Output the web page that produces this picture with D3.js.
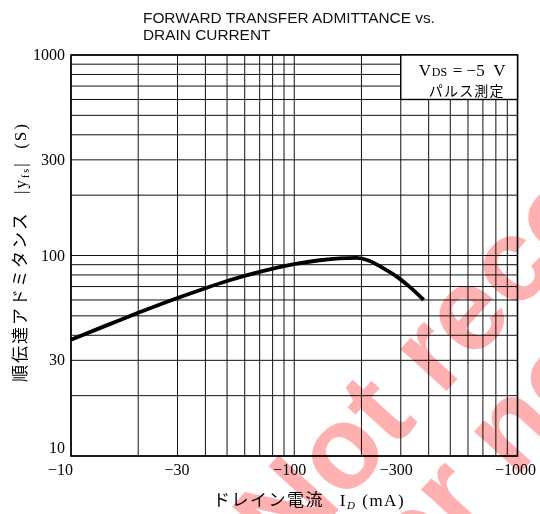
<!DOCTYPE html>
<html>
<head>
<meta charset="utf-8">
<script src="https://cdn.jsdelivr.net/npm/d3@7"></script>
<style>
  body { margin: 0; background: #fff; }
  svg { display: block; }
</style>
</head>
<body>
<div id="chart"></div>
<script>
// drain current |I_D| (mA) and forward transfer admittance |Yfs| (S)
const currentMA = [10, 15, 20, 30, 40, 50, 70, 100, 130, 160, 190, 215, 250, 290, 330, 380];
const admittance = [38, 45.6, 51.8, 61.4, 68.7, 74.6, 82.9, 90.6, 94.7, 96.7, 97.2, 94.5, 86.5, 78, 69.5, 60];

const gridValues = [10, 20, 30, 40, 50, 60, 70, 80, 90, 100, 200, 300, 400, 500, 600, 700, 800, 900, 1000];
const xTickValues = [10, 30, 100, 300, 1000];
const yTickValues = [10, 30, 100, 300, 1000];
const legendRange = {x: [300, 1000], y: [600, 1000]};

const width = 540, height = 514;
const plot = {left: 71, right: 517.5, top: 55, bottom: 456};

const svg = d3.select("#chart").append("svg")
    .attr("width", width)
    .attr("height", height);

const x = d3.scaleLog().domain([10, 1000]).range([plot.left, plot.right]);
const y = d3.scaleLog().domain([10, 1000]).range([plot.bottom, plot.top]);

const serif = "Liberation Serif, Times New Roman, serif";
const jp = "Noto Sans CJK JP, sans-serif";

// title
const title = svg.append("text")
    .attr("font-family", "Liberation Sans, Arial, sans-serif")
    .attr("font-size", 15.4)
    .attr("fill", "#111");
title.append("tspan").attr("x", 143).attr("y", 22.5).text("FORWARD TRANSFER ADMITTANCE vs.");
title.append("tspan").attr("x", 143).attr("y", 39.5).text("DRAIN CURRENT");

// grid
const grid = svg.append("g").attr("stroke", "#111").attr("stroke-width", 1);
grid.selectAll(".vline")
    .data(gridValues)
    .enter().append("line")
    .attr("class", "vline")
    .attr("x1", d => x(d)).attr("x2", d => x(d))
    .attr("y1", plot.top).attr("y2", plot.bottom);
grid.selectAll(".hline")
    .data(gridValues)
    .enter().append("line")
    .attr("class", "hline")
    .attr("y1", d => y(d)).attr("y2", d => y(d))
    .attr("x1", plot.left).attr("x2", plot.right);

// frame
svg.append("rect")
    .attr("x", plot.left).attr("y", plot.top)
    .attr("width", plot.right - plot.left)
    .attr("height", plot.bottom - plot.top)
    .attr("fill", "none")
    .attr("stroke", "#000")
    .attr("stroke-width", 1.6);

// legend box
svg.append("rect")
    .attr("x", x(legendRange.x[0]))
    .attr("y", y(legendRange.y[1]))
    .attr("width", x(legendRange.x[1]) - x(legendRange.x[0]))
    .attr("height", y(legendRange.y[0]) - y(legendRange.y[1]))
    .attr("fill", "#fff")
    .attr("stroke", "#000")
    .attr("stroke-width", 1.4);

const legX = x(legendRange.x[0]) + 18;
svg.append("text")
    .attr("x", legX).attr("y", 76)
    .attr("font-family", serif).attr("font-size", 17)
    .text("V");
svg.append("text")
    .attr("x", legX + 13).attr("y", 76)
    .attr("font-family", serif).attr("font-size", 12)
    .text("DS");
svg.append("text")
    .attr("x", legX + 34).attr("y", 76)
    .attr("font-family", serif).attr("font-size", 17)
    .text("=\u00a0−5\u00a0\u00a0V");

svg.append("text")
    .attr("x", legX + 10).attr("y", 95.5)
    .attr("font-family", jp)
    .attr("font-size", 14)
    .attr("letter-spacing", 1.2)
    .text("パルス測定");

// curve
const line = d3.line()
    .x(d => x(d[0]))
    .y(d => y(d[1]))
    .curve(d3.curveMonotoneX);

svg.append("path")
    .datum(d3.zip(currentMA, admittance))
    .attr("fill", "none")
    .attr("stroke", "#000")
    .attr("stroke-width", 3.8)
    .attr("d", line);

// tick labels
svg.selectAll(".ylab")
    .data(yTickValues)
    .enter().append("text")
    .attr("class", "ylab")
    .attr("x", plot.left - 6)
    .attr("y", d => y(d) + (d === 10 ? -3 : 5))
    .attr("text-anchor", "end")
    .attr("font-family", serif)
    .attr("font-size", 16)
    .text(d => d);

svg.selectAll(".xlab")
    .data(xTickValues)
    .enter().append("text")
    .attr("class", "xlab")
    .attr("x", (d, i) => i === 0 ? x(d) + 2 : (i === xTickValues.length - 1 ? width - 4 : x(d) + 12))
    .attr("y", plot.bottom + 19)
    .attr("text-anchor", "end")
    .attr("font-family", serif)
    .attr("font-size", 16)
    .text(d => "−" + d);

// axis titles
const xt = svg.append("text")
    .attr("x", 309).attr("y", 506)
    .attr("text-anchor", "middle")
    .attr("font-family", jp)
    .attr("font-size", 17)
    .attr("letter-spacing", 1.5)
    .attr("fill", "#000");
xt.append("tspan").text("ドレイン電流\u00a0\u00a0 ");
xt.append("tspan").attr("font-family", serif).text("I");
xt.append("tspan").attr("font-family", serif).attr("font-size", 11).attr("dy", 3).attr("font-style", "italic").text("D");
xt.append("tspan").attr("font-family", serif).attr("dy", -3).text("\u00a0(mA)");

const yt = svg.append("text")
    .attr("transform", "translate(26,252) rotate(-90)")
    .attr("text-anchor", "middle")
    .attr("font-family", jp)
    .attr("font-size", 17)
    .attr("letter-spacing", 2)
    .attr("fill", "#000");
yt.append("tspan").text("順伝達アドミタンス\u00a0\u00a0\u00a0");
yt.append("tspan").attr("font-family", serif).text("|y");
yt.append("tspan").attr("font-family", serif).attr("font-size", 10).attr("dy", 3).text("fs");
yt.append("tspan").attr("font-family", serif).attr("dy", -3).text("|\u00a0\u00a0(S)");

// watermark
const wm = svg.append("g")
    .attr("transform", "translate(320,478) rotate(-47.7)")
    .style("mix-blend-mode", "multiply")
    .attr("fill", "#ffb0b0")
    .attr("font-family", "Liberation Sans, Arial, sans-serif")
    .attr("font-weight", "bold")
    .attr("font-size", 118);
wm.append("text").attr("x", -88).attr("y", 35).text("Not recommended");
wm.append("text").attr("x", -60).attr("y", 145).text("for new design");
</script>
</body>
</html>
